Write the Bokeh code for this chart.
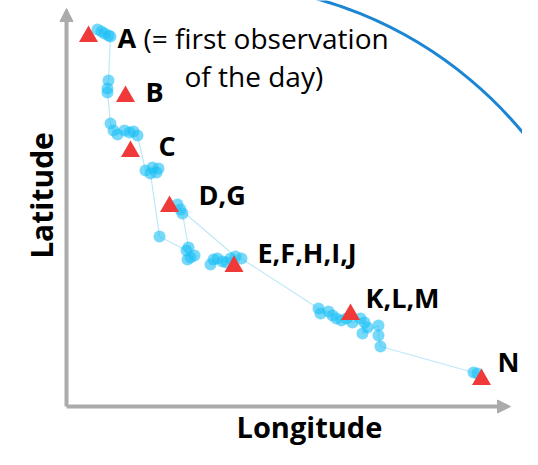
import numpy as np
from bokeh.plotting import figure
from bokeh.models import Range1d, Arrow, NormalHead
from bokeh.core.properties import value
from bokeh.embed import file_html
from bokeh.resources import INLINE

# ---- data (relative longitude / latitude units) ----
obs_lon = [0.31, 0.35, 0.38, 0.42, 0.44,
           0.42, 0.41, 0.41,
           0.44, 0.47, 0.51, 0.58, 0.63, 0.67, 0.71,
           0.79, 0.86, 0.92, 0.90, 0.84,
           0.93,
           1.20, 1.24, 1.21, 1.28, 1.22,
           1.16, 1.11, 1.14,
           1.69, 1.64, 1.60, 1.56, 1.51, 1.47, 1.44, 1.75,
           2.52, 2.54, 2.62, 2.66, 2.70, 2.75, 2.80, 2.86, 2.94, 2.98, 3.01, 2.96, 3.12, 3.12, 3.14,
           4.07, 4.11]
obs_lat = [3.77, 3.75, 3.73, 3.71, 3.70,
           3.26, 3.18, 3.14,
           2.83, 2.76, 2.72, 2.76, 2.74, 2.75, 2.71,
           2.36, 2.39, 2.38, 2.34, 2.33,
           1.70,
           1.56, 1.49, 1.47, 1.51, 1.59,
           1.93, 2.02, 1.97,
           1.50, 1.48, 1.44, 1.45, 1.48, 1.47, 1.42, 1.48,
           0.98, 0.93, 0.95, 0.91, 0.88, 0.86, 0.88, 0.84, 0.88, 0.84, 0.79, 0.73, 0.81, 0.71, 0.60,
           0.34, 0.33]

sight_lon = [0.22, 0.59, 0.64, 1.03, 1.675, 2.84, 4.15]
sight_lat = [3.70, 3.10, 2.55, 2.00, 1.40, 0.92, 0.27]
sight_names = ["A", "B", "C", "D,G", "E,F,H,I,J", "K,L,M", "N"]
name_lon = [0.51, 0.79, 0.92, 1.32, 1.91, 2.99, 4.31]
name_lat = [3.69, 3.15, 2.61, 2.12, 1.54, 1.09, 0.45]

note_lines = ["(= first observation", "of the day)"]
note_lon = [0.77, 1.18]
note_lat = [3.69, 3.31]

range_center = (1.39, 0.11)
range_radius = 4.12

GRAY = "#ABABAB"
FONT = value("Open Sans")

p = figure(width=522, height=449, output_backend="svg", toolbar_location=None,
           x_range=Range1d(-0.66, 4.56), y_range=Range1d(-0.43, 4.06),
           x_axis_location=None, y_axis_location=None, min_border=0)
p.grid.visible = False
p.outline_line_color = None
p.background_fill_color = "white"

# range circle arc
p.arc(x=range_center[0], y=range_center[1], radius=range_radius,
      start_angle=np.radians(15), end_angle=np.radians(85),
      line_color="#1B86D4", line_width=3)

# track
p.line(obs_lon, obs_lat, line_color="#BDE8F8", line_width=1.2)
p.scatter(obs_lon, obs_lat, size=12, fill_color="#1DBFF5", fill_alpha=0.6, line_color=None)

# sightings
p.scatter(sight_lon, sight_lat, marker="triangle", size=19,
          fill_color="#F03A3A", line_color=None)

p.text(name_lon, name_lat, text=sight_names, text_font=FONT, text_font_style="bold",
       text_font_size="27px", text_color="black", text_baseline="alphabetic", text_align="left")
p.text(note_lon, note_lat, text=note_lines, text_font=FONT,
       text_font_size="28px", text_color="black", text_baseline="alphabetic", text_align="left")

# axes as arrows
p.add_layout(Arrow(end=NormalHead(size=13, fill_color=GRAY, line_color=GRAY),
                   x_start=0, y_start=0, x_end=0, y_end=3.98,
                   line_color=GRAY, line_width=4))
p.add_layout(Arrow(end=NormalHead(size=13, fill_color=GRAY, line_color=GRAY),
                   x_start=0, y_start=0, x_end=4.44, y_end=0,
                   line_color=GRAY, line_width=4))

p.text([1.70], [-0.20], text=["Longitude"], text_font=FONT, text_font_style="bold",
       text_font_size="29px", text_color="black", text_baseline="alphabetic", text_align="left")
p.text([-0.25], [2.11], text=["Latitude"], angle=np.pi / 2, text_font=FONT, text_font_style="bold",
       text_font_size="30px", text_color="black", text_baseline="alphabetic", text_align="center")

open("out.html", "w").write(file_html(p, INLINE))
